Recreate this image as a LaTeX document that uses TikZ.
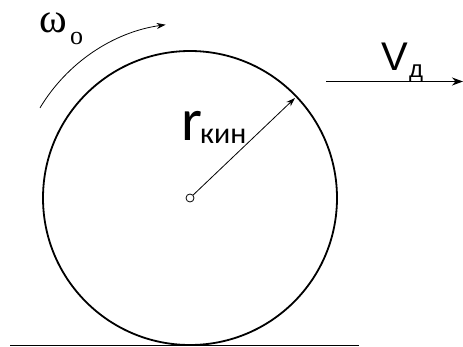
\documentclass[tikz,border=0pt]{standalone}
\usepackage{fontspec}
\newfontfamily\carl{Carlito}
\newfontfamily\ari{Liberation Sans}
\newfontfamily\tms{Liberation Serif}
\usetikzlibrary{arrows.meta}
\begin{document}
\begin{tikzpicture}[x=1pt,y=-1pt,
  lbl/.style={inner sep=0pt,anchor=base west},
  thin arrow/.style={line width=0.8pt,-{Stealth[length=9pt,width=6pt]}},
  thick line/.style={line width=1.8pt}]
\useasboundingbox (0,0) rectangle (463,347);
\coordinate (C) at (190,198);
\coordinate (GL) at (10,345.5);
\coordinate (GR) at (359,345.5);
\coordinate (Rtip) at (295,98);
\coordinate (Vs) at (326,81.5);
\coordinate (Ve) at (463,81.5);
% wheel
\draw[thick line] (C) circle[radius=147];
% ground
\draw[thick line] (GL) -- (GR);
% centre
\node[circle,draw,line width=0.8pt,minimum size=8pt,inner sep=0pt,fill=white] (hub) at (C) {};
% radius arrow
\draw[thin arrow] (hub) -- (Rtip);
% omega arc
\draw[thin arrow] (C) ++(211:175) arc[start angle=211,end angle=262,radius=175];
% velocity arrow
\draw[line width=1.8pt,-{Stealth[length=11pt,width=8pt]}] (Vs) -- (Ve);
% labels
\node[lbl] (om) at (39,33) {\tms\fontsize{42}{42}\selectfont ω};
\node[lbl] (omo) at (70,45) {\tms\fontsize{26}{26}\selectfont о};
\node[lbl] (r) at (181,141) {\carl\fontsize{60}{60}\selectfont r};
\node[lbl] (kin) at (200,144) {\carl\fontsize{30}{30}\selectfont кин};
\node[lbl] (V) at (381,71) {\ari\fontsize{40}{40}\selectfont V};
\node[lbl] (d) at (409,78) {\ari\fontsize{24}{24}\selectfont д};
\end{tikzpicture}
\end{document}
